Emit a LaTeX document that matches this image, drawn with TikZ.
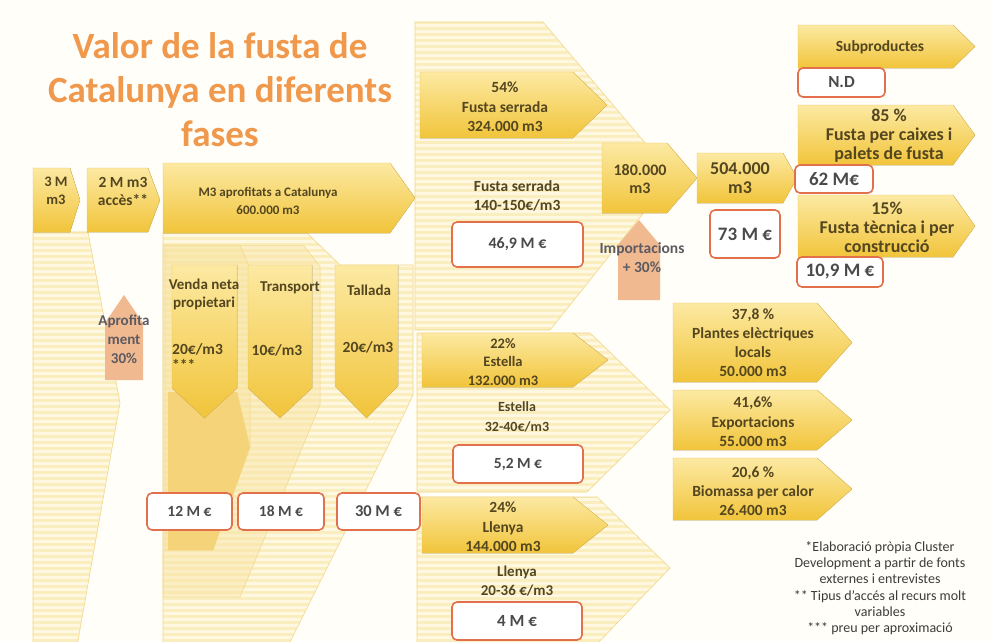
\documentclass[tikz,border=0pt]{standalone}
\usepackage{fontspec}
\setmainfont{Carlito}
\usepackage{tikz}

\definecolor{paper}{HTML}{FFFEF8}
\definecolor{liteyellow}{HTML}{FBEEBE}
\definecolor{liteedge}{HTML}{F1D88C}
\definecolor{stripecol}{HTML}{FEF8E2}
\definecolor{liteshade}{HTML}{F8E3A0}
\definecolor{amber}{HTML}{F5D070}
\definecolor{goldtop}{HTML}{FCE9A2}
\definecolor{goldbot}{HTML}{F1C43A}
\definecolor{goldedge}{HTML}{EBC65C}
\definecolor{salmonfill}{HTML}{F1B98F}
\definecolor{salmontext}{HTML}{5C5A62}
\definecolor{euroedge}{HTML}{E2704C}
\definecolor{eurotext}{HTML}{4A4A4A}
\definecolor{labeltext}{HTML}{54461F}
\definecolor{titleorange}{HTML}{F0984C}
\definecolor{notetext}{HTML}{3C3C3C}

\begin{document}
\begin{tikzpicture}[x=1pt,y=-1pt,
	lite/.style={fill=liteyellow,draw=liteedge,line width=0.6pt,
		path picture={\foreach \s in {0,6,...,648} \fill[stripecol] (0,\s) rectangle (991,\s+2.5);}},
	shade/.style={fill=liteshade,draw=liteedge,line width=0.5pt,fill opacity=0.45},
	goldarrow/.style={top color=goldtop,bottom color=goldbot,draw=goldedge,line width=0.4pt},
	salmon/.style={fill=salmonfill},
	euro/.style={draw=euroedge,line width=1.6pt,fill=white,rounded corners=5pt,text=eurotext,inner sep=0pt},
	lbl/.style 2 args={text=labeltext,font=\fontsize{#1}{#2}\selectfont\bfseries,align=center,inner sep=0pt}]
	
	\fill[paper] (0,0) rectangle (991,641);
	\useasboundingbox (0,0) rectangle (991,641);
	
	\filldraw[lite] (33,232) -- (88,232) -- (120,403) -- (77,646) -- (33,646) -- cycle;
	\filldraw[lite] (163,233) -- (307,233) -- (340,265) -- (413,265) -- (413,395) -- (405,412) -- (288,646) -- (163,646) -- cycle;
	\filldraw[lite] (415,22) -- (543,22) -- (673,176) -- (550,330) -- (415,330) -- cycle;
	\filldraw[lite] (417,333) -- (590,333) -- (670,410) -- (587,492) -- (417,492) -- cycle;
	\filldraw[lite] (417,497) -- (597,497) -- (670,568) -- (595,646) -- (417,646) -- cycle;
	
	\filldraw[shade] (163,245) -- (303,245) -- (320,266) -- (320,405) -- (240,597) -- (163,597) -- cycle;
	\filldraw[shade] (165,245) -- (240,245) -- (250,268) -- (250,447) -- (213,550) -- (165,550) -- cycle;
	\filldraw[fill=amber,draw=liteedge,fill opacity=0.85] (168,392) -- (237,392) -- (250,447) -- (213,550) -- (168,550) -- cycle;
	
	\fill[salmon] (105,323) -- (124,295) -- (143,323) -- (143,380) -- (105,380) -- cycle;
	\fill[salmon] (618,245) -- (639,220) -- (660,245) -- (660,300) -- (618,300) -- cycle;
	
	\foreach \xa/\ya/\xb/\yb/\tip in {33/168/80/232/10, 87/168/160/232/12, 163/163/415/233/25,
		420/72/607/138/34, 602/143/697/213/30, 697/153/797/203/14,
		798/25/975/68/22, 798/105/975/165/22, 798/195/975/257/22,
		422/333/608/387/35, 422/497/608/553/35,
		673/303/852/382/35, 673/390/852/450/35, 673/458/852/520/35}
	{
		\filldraw[goldarrow] (\xa,\ya) -- ({\xb-\tip},\ya) -- (\xb,{(\ya+\yb)/2}) -- ({\xb-\tip},\yb) -- (\xa,\yb) -- cycle;
	}
	\foreach \xa/\ya/\xb/\yb/\tip in {172/265/237/418/30, 248/265/312/418/30, 335/265/398/418/32}
	{
		\filldraw[goldarrow] (\xa,\ya) -- (\xb,\ya) -- (\xb,{\yb-\tip}) -- ({(\xa+\xb)/2},\yb) -- (\xa,{\yb-\tip}) -- cycle;
	}
	
	\foreach \cx/\cy/\w/\h/\fs/\n/\t in {189.5/511.5/85/37/15.5/eA/{12 M €}, 281/511.5/86/37/15.5/eB/{18 M €},
		378.5/511.5/83/37/16.5/eC/{30 M €}, 517.5/244.5/131/45/16/eD/{46,9 M €},
		518/464/130/38/15.5/eE/{5,2 M €}, 517/621/130/38/17/eF/{4 M €},
		745/234/70/48/19/eG/{73 M €}, 841.5/82.5/87/29/17/eH/{N.D},
		834/179/78/28/19/eI/{62 M€}, 840/272/86/30/19/eJ/{10,9 M €}}
	{
		\node[euro,minimum width=\w pt,minimum height=\h pt,font=\fontsize{\fs}{\fs}\selectfont\bfseries] (\n) at (\cx,\cy) {\t};
	}
	
	\node[text=titleorange,font=\fontsize{37}{44}\selectfont\bfseries,align=center] (title) at (220,90) {Valor de la fusta de\\Catalunya en diferents\\fases};
	
	\node[lbl={14.5}{18}] (t3m) at (56,191) {3 M\\m3};
	\node[lbl={15.5}{18}] (t2m) at (123,191) {2 M m3\\accès**};
	\node[lbl={13}{18}] (tm3) at (268,201) {M3 aprofitats a Catalunya\\600.000 m3};
	\node[lbl={15}{18}] (tvenda) at (204,294) {Venda neta\\propietari};
	\node[lbl={15.5}{18},anchor=west] (pvenda) at (172,349) {20€/m3};
	\node[lbl={15.5}{18},anchor=north west] (svenda) at (172,359) {***};
	\node[lbl={15}{18}] (ttransp) at (290,288) {Transport};
	\node[lbl={15.5}{18}] (ptransp) at (277,350) {10€/m3};
	\node[lbl={15}{18}] (ttall) at (369,290) {Tallada};
	\node[lbl={15.5}{18}] (ptall) at (368,347) {20€/m3};
	\node[lbl={15}{19},text=salmontext] (taprof) at (124,339) {Aprofita\\ment\\30\%};
	
	\node[lbl={15.5}{19.5}] (tfusta) at (505,107) {54\%\\Fusta serrada\\324.000 m3};
	\node[lbl={15.5}{19}] (pfusta) at (517,196) {Fusta serrada\\140-150€/m3};
	\node[lbl={16}{18}] (t180) at (640,179) {180.000\\m3};
	\node[lbl={15.5}{19},text=salmontext] (timport) at (642,258) {Importacions\\+ 30\%};
	\node[lbl={18}{19}] (t504) at (740,178) {504.000\\m3};
	\node[lbl={15.5}{18}] (tsub) at (880,47) {Subproductes};
	\node[lbl={18}{19}] (tcaix) at (889,136) {85 \%\\Fusta per caixes i\\palets de fusta};
	\node[lbl={18}{19}] (ttecn) at (887,227) {15\%\\Fusta tècnica i per\\construcció};
	
	\node[lbl={14.5}{18.5}] (testel) at (503,362) {22\%\\Estella\\132.000 m3};
	\node[lbl={14}{20}] (pestel) at (517,417) {Estella\\32-40€/m3};
	\node[lbl={15.5}{19.5}] (tllen) at (503,527) {24\%\\Llenya\\144.000 m3};
	\node[lbl={15}{18.5}] (pllen) at (517,581) {Llenya\\20-36 €/m3};
	
	\node[lbl={15.5}{19}] (tplant) at (753,343) {37,8 \%\\Plantes elèctriques\\locals\\50.000 m3};
	\node[lbl={15.5}{19.5}] (texport) at (753,422) {41,6\%\\Exportacions\\55.000 m3};
	\node[lbl={15.5}{19}] (tbiom) at (753,491) {20,6 \%\\Biomassa per calor\\26.400 m3};
	
	\node[text=notetext,font=\fontsize{14}{16.3}\selectfont,align=center,anchor=north,inner sep=0pt] (notes) at (880,541) {*Elaboració pròpia Cluster\\Development a partir de fonts\\externes i entrevistes\\** Tipus d'accés al recurs molt\\variables\\*** preu per aproximació};
\end{tikzpicture}
\end{document}
